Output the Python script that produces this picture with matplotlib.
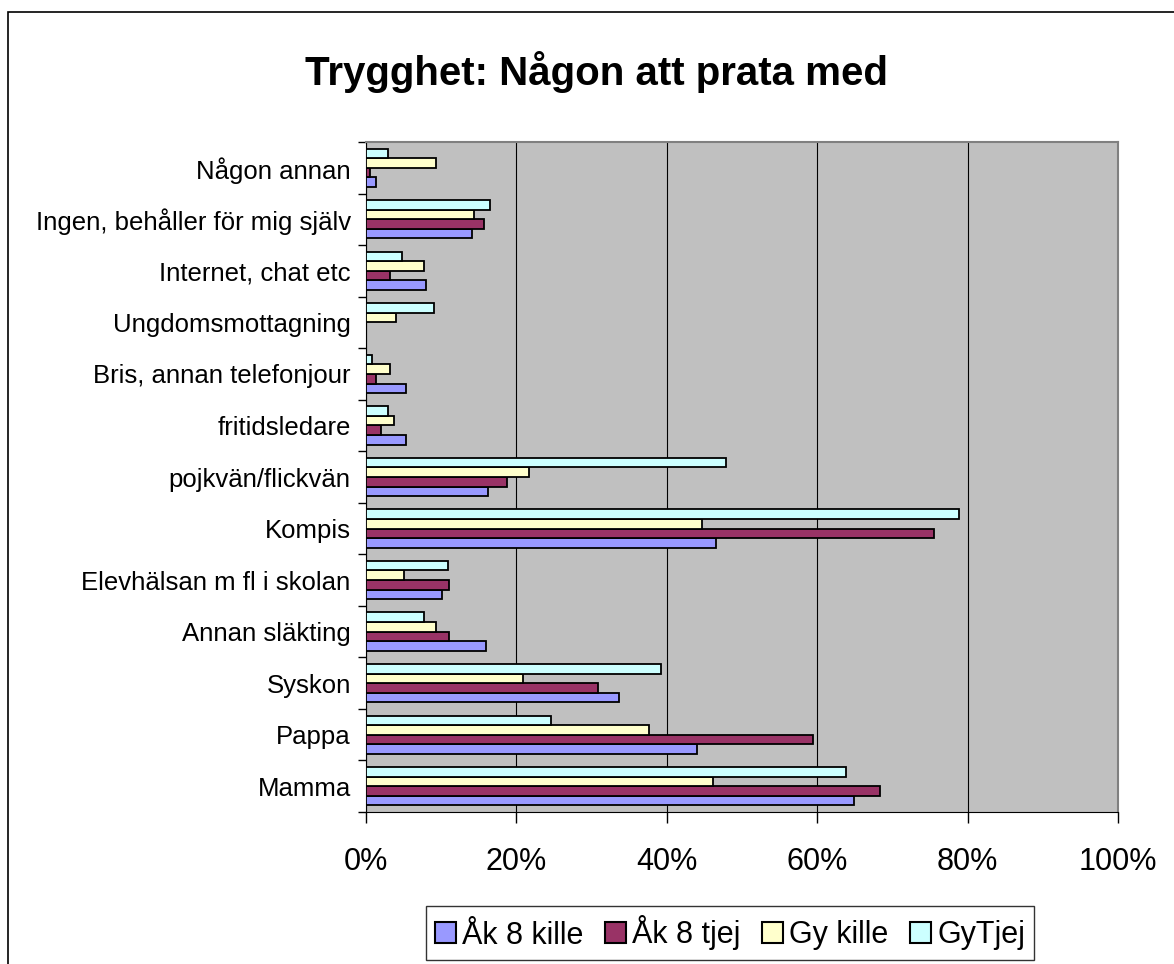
#!/usr/bin/env python3
# -*- coding: utf-8 -*-
"""Trygghet: Någon att prata med - horisontellt stapeldiagram."""

import numpy as np
import matplotlib
matplotlib.use("Agg")
import matplotlib.pyplot as plt
from matplotlib.patches import Rectangle
from matplotlib.ticker import FixedLocator, PercentFormatter

plt.rcParams["font.family"] = ["Liberation Sans", "DejaVu Sans"]

# kategorier, nerifrån och upp
categories = [
    "Mamma", "Pappa", "Syskon", "Annan släkting", "Elevhälsan m fl i skolan",
    "Kompis", "pojkvän/flickvän", "fritidsledare", "Bris, annan telefonjour",
    "Ungdomsmottagning", "Internet, chat etc", "Ingen, behåller för mig själv",
    "Någon annan",
]

series_names = ["Åk 8 kille", "Åk 8 tjej", "Gy kille", "GyTjej"]
series_colors = ["#9999FF", "#993366", "#FFFFCC", "#CCFFFF"]

# andel i procent
ak8_kille = [64.9, 44.0, 33.7, 15.9, 10.1, 46.6, 16.2, 5.3, 5.3, 0.0, 8.0, 14.1, 1.3]
ak8_tjej = [68.3, 59.4, 30.8, 11.1, 11.1, 75.5, 18.8, 2.0, 1.3, 0.0, 3.2, 15.7, 0.5]
gy_kille = [46.1, 37.6, 20.9, 9.3, 5.0, 44.7, 21.7, 3.7, 3.2, 4.0, 7.7, 14.3, 9.3]
gy_tjej = [63.8, 24.6, 39.2, 7.7, 10.9, 78.9, 47.9, 2.9, 0.8, 9.1, 4.8, 16.5, 2.9]

series = [ak8_kille, ak8_tjej, gy_kille, gy_tjej]

fig = plt.figure(figsize=(11.74, 9.64), dpi=100)
ax = fig.add_axes([366 / 1174, 1 - 812 / 964, (1118 - 366) / 1174, (812 - 142) / 964])

y = np.arange(len(categories))
bar_h = 0.186
offsets = (np.arange(len(series)) - 1.5) * bar_h

ax.set_facecolor("#C0C0C0")
for vals, name, col, off in zip(series, series_names, series_colors, offsets):
    ax.barh(y + off, vals, height=bar_h, color=col, edgecolor="black",
            linewidth=1.3, label=name, zorder=3)

ax.set_xlim(0, 100)
ax.set_ylim(-0.5, len(categories) - 0.5)
ax.xaxis.set_major_locator(FixedLocator([0, 20, 40, 60, 80, 100]))
ax.xaxis.set_major_formatter(PercentFormatter(decimals=0))
ax.grid(axis="x", color="black", linewidth=0.8, zorder=1)

ax.set_yticks(y)
ax.set_yticklabels(categories)
ax.yaxis.set_minor_locator(FixedLocator(np.arange(len(categories) + 1) - 0.5))
ax.tick_params(axis="y", which="major", length=0, pad=11, labelsize=18.5)
ax.tick_params(axis="y", which="minor", length=6, width=1, direction="out")
ax.tick_params(axis="x", which="major", length=8, width=1, direction="out",
               pad=17, labelsize=22)

for side in ["top", "right"]:
    ax.spines[side].set_color("#808080")
    ax.spines[side].set_linewidth(1.5)
ax.spines["left"].set_color("black")
ax.spines["bottom"].set_color("black")

fig.text(0.508, 1 - 72 / 964, "Trygghet: Någon att prata med", ha="center",
         va="center", fontsize=29, fontweight="bold")

leg = fig.legend(loc="center", bbox_to_anchor=(730 / 1174, 1 - 933 / 964),
                 ncol=4, fontsize=22, frameon=True, fancybox=False,
                 edgecolor="black", handlelength=0.69, handleheight=0.69,
                 handletextpad=0.2, columnspacing=0.7, borderpad=0.3,
                 borderaxespad=0)
leg.get_frame().set_linewidth(1.0)
for h in leg.legend_handles:
    h.set_linewidth(1.5)

# ram runt hela diagrammet (skuren i höger- och nederkant)
frame = Rectangle((8 / 1174, -0.05), 1.1, (964 - 12) / 964 + 0.05,
                  transform=fig.transFigure, fill=False, edgecolor="black",
                  linewidth=1.2)
fig.patches.append(frame)

fig.savefig("out.png", dpi=100)
